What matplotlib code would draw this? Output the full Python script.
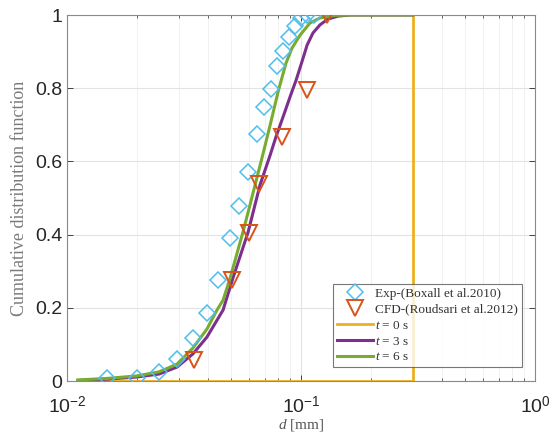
import numpy as np
import matplotlib
matplotlib.use("Agg")
import matplotlib.pyplot as plt
from matplotlib.ticker import FixedLocator, LogLocator, NullFormatter

plt.rcParams['mathtext.fontset'] = 'custom'
plt.rcParams['mathtext.rm'] = 'Liberation Sans'
plt.rcParams['mathtext.it'] = 'Liberation Serif:italic'
plt.rcParams['font.family'] = ['Liberation Sans', 'DejaVu Sans']

# Experimental data (Boxall et al. 2010)
exp_d = [0.01483, 0.01990, 0.02474, 0.02953, 0.03453, 0.03966, 0.04421, 0.04970,
         0.05431, 0.05935, 0.06486, 0.06949, 0.07446, 0.07897, 0.08375, 0.08882,
         0.09419, 0.1000, 0.1060, 0.1136]
exp_cdf = [0.008, 0.008, 0.025, 0.060, 0.118, 0.186, 0.277, 0.392, 0.477, 0.570,
           0.674, 0.748, 0.797, 0.860, 0.901, 0.940, 0.970, 0.992, 1.0, 1.0]

# CFD data (Roudsari et al. 2012)
cfd_d = [0.0349, 0.0507, 0.0600, 0.0662, 0.0830, 0.1062, 0.1292]
cfd_cdf = [0.057, 0.276, 0.404, 0.538, 0.667, 0.795, 1.0]

# t = 0 s
t0_d = [0.01114, 0.3, 0.3]
t0_cdf = [0.0, 0.0, 1.0]

# t = 3 s
t3_d = [0.01114, 0.01483, 0.01991, 0.02472, 0.02951, 0.03451, 0.03963, 0.04645,
        0.05117, 0.05943, 0.06683, 0.07379, 0.07816, 0.08375, 0.08974, 0.09528,
        0.1009, 0.1062, 0.1125, 0.1205, 0.1303, 0.1439, 0.1618, 0.3]
t3_cdf = [0.001, 0.005, 0.011, 0.019, 0.038, 0.074, 0.120, 0.194, 0.281, 0.407,
          0.536, 0.617, 0.667, 0.721, 0.776, 0.822, 0.872, 0.918, 0.951, 0.973,
          0.989, 0.997, 1.0, 1.0]

# t = 6 s
t6_d = [0.01114, 0.01483, 0.01991, 0.02472, 0.02951, 0.03451, 0.03963, 0.04375,
        0.04645, 0.04977, 0.05649, 0.06053, 0.06808, 0.07379, 0.07980, 0.08630,
        0.09162, 0.09908, 0.1091, 0.1205, 0.1396, 0.1618, 0.3]
t6_cdf = [0.003, 0.007, 0.014, 0.025, 0.046, 0.090, 0.142, 0.194, 0.221, 0.281,
          0.407, 0.481, 0.609, 0.699, 0.790, 0.869, 0.910, 0.945, 0.978, 0.992,
          0.999, 1.0, 1.0]

xticks = [0.01, 0.1, 1.0]
xticklabels = [r'$10^{-2}$', r'$10^{-1}$', r'$10^{0}$']
yticks = [0, 0.2, 0.4, 0.6, 0.8, 1.0]
yticklabels = ['0', '0.2', '0.4', '0.6', '0.8', '1']

fig = plt.figure(figsize=(5.55, 4.34), dpi=100)
ax = fig.add_axes([0.1207, 0.1221, 0.8433, 0.8433])

c_exp = '#4DBEEE'
c_cfd = '#D95319'
c_t0 = '#EDB120'
c_t3 = '#7E2F8E'
c_t6 = '#77AC30'

ax.plot(exp_d, exp_cdf, linestyle='none', marker='D', markersize=8.5,
        markerfacecolor='none', markeredgecolor=c_exp, markeredgewidth=1.1,
        label='Exp-(Boxall et al.2010)', zorder=4)
ax.plot(cfd_d, cfd_cdf, linestyle='none', marker='v', markersize=11,
        markerfacecolor='none', markeredgecolor=c_cfd, markeredgewidth=1.4,
        label='CFD-(Roudsari et al.2012)', zorder=4)
ax.plot(t0_d, t0_cdf, color=c_t0, lw=2.0, label=r'$t$ = 0 s', zorder=3)
ax.plot(t3_d, t3_cdf, color=c_t3, lw=2.2, label=r'$t$ = 3 s', zorder=3)
ax.plot(t6_d, t6_cdf, color=c_t6, lw=2.2, label=r'$t$ = 6 s', zorder=3)

ax.set_xscale('log')
ax.set_xlim(0.01, 1.0)
ax.set_ylim(0, 1)
ax.xaxis.set_major_locator(FixedLocator(xticks))
ax.set_xticklabels(xticklabels)
ax.xaxis.set_minor_locator(LogLocator(base=10, subs=np.arange(2, 10)))
ax.xaxis.set_minor_formatter(NullFormatter())
ax.set_yticks(yticks)
ax.set_yticklabels(yticklabels)

ax.grid(True, which='major', color='#e3e3e3', lw=0.8)
ax.grid(True, which='minor', axis='x', color='#efefef', lw=0.6)
ax.set_axisbelow(True)

ax.tick_params(which='both', direction='in', top=True, right=True,
               labelsize=14, colors='#262626')
ax.tick_params(which='major', length=4, width=0.6)
ax.tick_params(which='minor', length=2.5, width=0.5)
ax.tick_params(axis='x', which='major', pad=11)
for s in ax.spines.values():
    s.set_color('#8a8a8a')
    s.set_linewidth(0.8)

ax.set_ylabel('Cumulative distribution function', family='Liberation Serif',
              fontsize=13, color='#7a7a7a', labelpad=5)
ax.set_xlabel(r'$d$ [mm]', family='Liberation Serif', fontsize=11,
              color='#555555', labelpad=0)

leg = ax.legend(loc='lower right', bbox_to_anchor=(0.978, 0.03),
                prop={'family': 'Liberation Serif', 'size': 9.5},
                frameon=True, fancybox=False, edgecolor='#555555',
                borderpad=0.3, labelspacing=0.28, handlelength=2.7,
                handletextpad=0.2, borderaxespad=0.2)
leg.get_frame().set_linewidth(0.8)
for t in leg.get_texts():
    t.set_color('#333333')

fig.savefig('out.png', dpi=100)
